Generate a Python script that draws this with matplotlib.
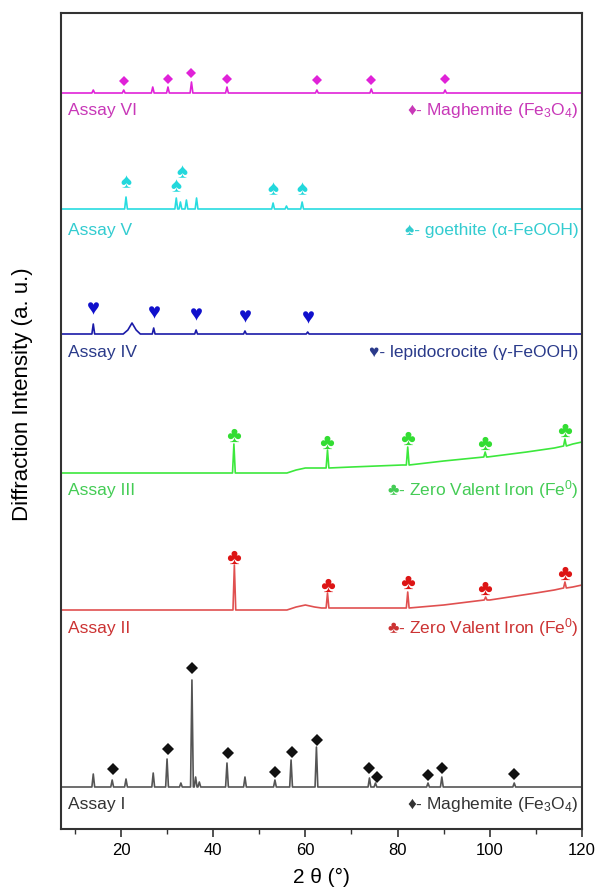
import numpy as np
from matplotlib import pyplot as plt
from matplotlib.ticker import MultipleLocator

plt.rcParams['font.family'] = ['Liberation Sans', 'DejaVu Sans']
plt.rcParams['mathtext.fontset'] = 'custom'
plt.rcParams['mathtext.rm'] = 'Liberation Sans'
plt.rcParams['mathtext.default'] = 'regular'

# --- data (intensity in a.u., each pattern relative to its own zero) ---
assay_names = ["Assay I", "Assay II", "Assay III", "Assay IV", "Assay V", "Assay VI"]
phase_labels = ["\u2666- Maghemite (Fe$_3$O$_4$)",
                "\u2663- Zero Valent Iron (Fe$^0$)",
                "\u2663- Zero Valent Iron (Fe$^0$)",
                "\u2665- lepidocrocite (\u03b3-FeOOH)",
                "\u2660- goethite (\u03b1-FeOOH)",
                "\u2666- Maghemite (Fe$_3$O$_4$)"]
stack_offsets = [42, 219, 356, 495, 620, 736]

# Assay I - maghemite
a1_base_x = [7, 120]
a1_base_y = [0, 0]
a1_peak_x = [14.0, 18.1, 21.1, 27.0, 30.0, 33.0, 35.4, 36.2, 37.0, 43.0, 46.9,
             53.4, 56.9, 62.4, 73.9, 75.2, 86.6, 89.6, 105.3]
a1_peak_b = [0] * 19
a1_peak_t = [13, 7, 8, 14, 28, 4, 107, 10, 5, 24, 10, 7, 27, 40, 9, 4, 4, 10, 4]
a1_mark_x = [18.3, 30.1, 35.5, 43.2, 53.5, 57.0, 62.6, 73.8, 75.5, 86.7, 89.6, 105.3]
a1_mark_y = [18, 38, 119, 34, 15, 35, 47, 19, 10, 12, 19, 13]

# Assay II - ZVI
a2_base_x = [7, 56, 58, 60, 62, 63.5, 72, 80, 90, 100, 110, 114, 118, 120]
a2_base_y = [0, 0, 3, 5, 3, 2, 2, 2, 5, 10, 17, 20, 23, 25]
a2_peak_x = [44.6, 64.8, 82.2, 99.1, 116.3]
a2_peak_b = [0, 2, 2, 10, 22]
a2_peak_t = [45, 17, 18, 13, 28]
a2_mark_x = [44.6, 65.0, 82.2, 99.0, 116.3]
a2_mark_y = [53, 25, 28, 22, 37]

# Assay III - ZVI
a3_base_x = [7, 56, 58, 60, 62, 70, 81, 90, 99.5, 108, 114, 118, 120]
a3_base_y = [0, 0, 3, 5, 5, 6, 8, 12, 16, 21, 25, 29, 31]
a3_peak_x = [44.5, 64.8, 82.2, 99.0, 116.3]
a3_peak_b = [0, 5, 8, 16, 27]
a3_peak_t = [29, 23, 26, 21, 34]
a3_mark_x = [44.5, 64.8, 82.2, 99.0, 116.3]
a3_mark_y = [38, 31, 35, 30, 43]

# Assay IV - lepidocrocite
a4_base_x = [7, 20.5, 21.5, 22.4, 23.3, 24.2, 120]
a4_base_y = [0, 0, 4, 11, 4, 0, 0]
a4_peak_x = [14.0, 27.1, 36.3, 46.9, 60.5]
a4_peak_b = [0, 0, 0, 0, 0]
a4_peak_t = [10, 6, 4, 3, 2]
a4_mark_x = [14.0, 27.2, 36.3, 46.9, 60.5]
a4_mark_y = [26, 22, 20, 18, 17]

# Assay V - goethite
a5_base_x = [7, 120]
a5_base_y = [0, 0]
a5_peak_x = [21.1, 32.0, 32.9, 34.2, 36.4, 53.0, 55.9, 59.3]
a5_peak_b = [0] * 8
a5_peak_t = [12, 11, 7, 9, 11, 6, 3, 7]
a5_mark_x = [21.15, 31.9, 33.2, 53.0, 59.3]
a5_mark_y = [28, 24, 38, 21, 21]

# Assay VI - maghemite
a6_base_x = [7, 120]
a6_base_y = [0, 0]
a6_peak_x = [14.0, 20.6, 26.9, 30.2, 35.3, 43.0, 62.5, 74.3, 90.3]
a6_peak_b = [0] * 9
a6_peak_t = [3, 3, 6, 6, 11, 6, 3, 4, 3]
a6_mark_x = [20.6, 30.2, 35.3, 43.0, 62.5, 74.3, 90.3]
a6_mark_y = [12, 14, 20, 14, 13, 13, 14]

line_colors = ['#555555', '#E05050', '#3CE83C', '#1A1AA8', '#28DCE0', '#E022D8']
mark_colors = ['#111111', '#DD1515', '#33DD33', '#1010CC', '#22D8DC', '#E022D8']
text_colors = ['#333333', '#CC3333', '#44CC55', '#2A3A8A', '#33CCD0', '#C838B8']
mark_symbols = ['D', '$\u2663$', '$\u2663$', '$\u2665$', '$\u2660$', 'D']
mark_sizes = [6, 9.5, 9.5, 9, 9, 5.5]
label_y = [24, 201, 339, 476, 599, 718]


def trace(bx, by, px, pb, pt, w=0.3):
    pts = list(zip(bx, by))
    for p, b, t in zip(px, pb, pt):
        pts += [(p - w, b), (p, t), (p + w, b)]
    pts.sort()
    xs, ys = zip(*pts)
    return np.array(xs), np.array(ys)


series = [
    (a1_base_x, a1_base_y, a1_peak_x, a1_peak_b, a1_peak_t, a1_mark_x, a1_mark_y),
    (a2_base_x, a2_base_y, a2_peak_x, a2_peak_b, a2_peak_t, a2_mark_x, a2_mark_y),
    (a3_base_x, a3_base_y, a3_peak_x, a3_peak_b, a3_peak_t, a3_mark_x, a3_mark_y),
    (a4_base_x, a4_base_y, a4_peak_x, a4_peak_b, a4_peak_t, a4_mark_x, a4_mark_y),
    (a5_base_x, a5_base_y, a5_peak_x, a5_peak_b, a5_peak_t, a5_mark_x, a5_mark_y),
    (a6_base_x, a6_base_y, a6_peak_x, a6_peak_b, a6_peak_t, a6_mark_x, a6_mark_y),
]

fig = plt.figure(figsize=(5.99, 8.92), dpi=100)
ax = fig.add_axes([61 / 599, 63 / 892, 521 / 599, 816 / 892])

for i, (bx, by, px, pb, pt, mx, my) in enumerate(series):
    off = stack_offsets[i]
    x, y = trace(bx, by, px, pb, pt)
    ax.plot(x, y + off, color=line_colors[i], lw=1.2)
    ax.plot(mx, np.array(my) + off, ls='none', marker=mark_symbols[i],
            ms=mark_sizes[i], color=mark_colors[i], mew=0)
    ax.text(8.5, label_y[i], assay_names[i], color=text_colors[i], fontsize=12.5,
            ha='left', va='center')
    ax.text(119.2, label_y[i], phase_labels[i], color=text_colors[i], fontsize=12.5,
            ha='right', va='center')

ax.set_xlim(7, 120)
ax.set_ylim(0, 816)
ax.set_yticks([])
ax.xaxis.set_major_locator(MultipleLocator(20))
ax.xaxis.set_minor_locator(MultipleLocator(10))
ax.tick_params(axis='x', which='major', direction='out', length=6, width=1.2,
               labelsize=12, pad=4, color='#333333')
ax.tick_params(axis='x', which='minor', direction='out', length=3.5, width=1.0,
               color='#333333')
for s in ax.spines.values():
    s.set_linewidth(1.5)
    s.set_color('#333333')

ax.set_xlabel("2 \u03b8 (\u00b0)", fontsize=15)
ax.xaxis.set_label_coords(0.5, -0.048)
ax.set_ylabel("Diffraction Intensity (a. u.)", fontsize=16)
ax.yaxis.set_label_coords(-0.054, 0.533)

fig.savefig("out.png", dpi=100)
